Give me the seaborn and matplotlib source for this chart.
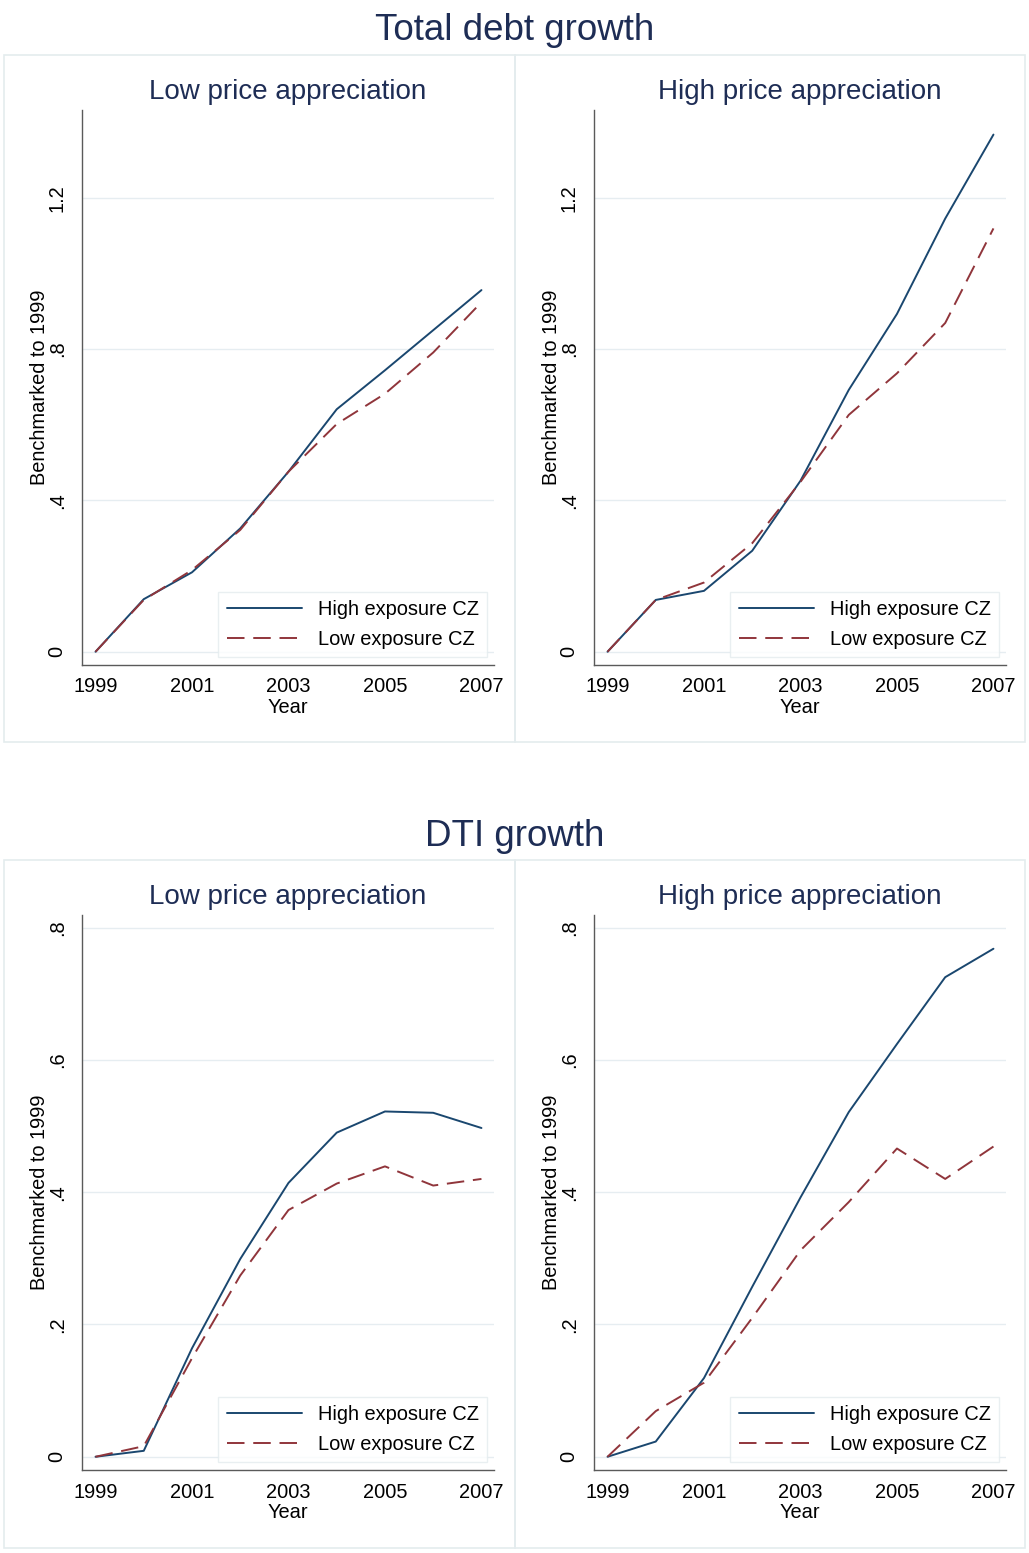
import matplotlib
matplotlib.use("Agg")
import matplotlib.pyplot as plt
from matplotlib.patches import Rectangle
import pandas as pd
import seaborn as sns

sns.set_theme(style="white")
plt.rcParams["font.family"] = ["Liberation Sans", "DejaVu Sans"]
plt.rcParams["text.color"] = "black"
plt.rcParams["axes.labelcolor"] = "black"

# ---- data -------------------------------------------------------------
years = [1999, 2000, 2001, 2002, 2003, 2004, 2005, 2006, 2007]
series_names = ["High exposure CZ", "Low exposure CZ"]
panel_titles = ["Low price appreciation", "High price appreciation"]
group_titles = ["Total debt growth", "DTI growth"]

debt_low_high = [0, 0.139, 0.210, 0.326, 0.476, 0.641, 0.744, 0.850, 0.956]
debt_low_low = [0, 0.137, 0.216, 0.322, 0.476, 0.602, 0.682, 0.791, 0.924]
debt_high_high = [0, 0.137, 0.161, 0.267, 0.452, 0.692, 0.893, 1.145, 1.367]
debt_high_low = [0, 0.137, 0.183, 0.287, 0.449, 0.626, 0.736, 0.869, 1.119]

dti_low_high = [0, 0.009, 0.164, 0.299, 0.414, 0.490, 0.522, 0.520, 0.497]
dti_low_low = [0, 0.016, 0.149, 0.274, 0.373, 0.413, 0.439, 0.410, 0.420]
dti_high_high = [0, 0.023, 0.119, 0.257, 0.392, 0.521, 0.624, 0.725, 0.768]
dti_high_low = [0, 0.069, 0.112, 0.210, 0.312, 0.385, 0.466, 0.420, 0.469]

debt_ticks = [0, 0.4, 0.8, 1.2]
debt_ticklabels = ["0", ".4", ".8", "1.2"]
dti_ticks = [0, 0.2, 0.4, 0.6, 0.8]
dti_ticklabels = ["0", ".2", ".4", ".6", ".8"]
x_ticks = [1999, 2001, 2003, 2005, 2007]

# ---- styling ----------------------------------------------------------
W, H = 1029, 1553
NAVY = "#1a476f"
MAROON = "#90353b"
TITLE_C = "#1e2d55"
GRID_C = "#e6edf1"
AXIS_C = "#5a5a5a"
BOX_C = "#e4ecee"

fig = plt.figure(figsize=(W / 100, H / 100), dpi=100)
fig.patch.set_facecolor("white")


def fx(px):
    return px / W


def fy(py):
    return 1 - py / H


def make_df(high, low):
    return pd.DataFrame({
        "Year": years * 2,
        "value": high + low,
        "series": [series_names[0]] * len(years) + [series_names[1]] * len(years),
    })


def draw_panel(left, right, top, bottom, high, low, title, ylim, ticks, ticklabels):
    ax = fig.add_axes([fx(left), fy(bottom), fx(right - left), (bottom - top) / H])
    df = make_df(high, low)
    sns.lineplot(
        data=df, x="Year", y="value", hue="series", style="series",
        palette={series_names[0]: NAVY, series_names[1]: MAROON},
        dashes={series_names[0]: "", series_names[1]: (9, 4.5)},
        linewidth=1.4, ax=ax, legend=True,
    )
    ax.set_xlim(1998.72, 2007.26)
    ax.set_ylim(*ylim)
    ax.set_yticks(ticks)
    ax.set_yticklabels(ticklabels, rotation=90, va="center", fontsize=14.4)
    ax.set_xticks(x_ticks)
    ax.set_xticklabels([str(t) for t in x_ticks], fontsize=14.4)
    ax.grid(axis="y", color=GRID_C, linewidth=1.0)
    ax.grid(axis="x", visible=False)
    ax.set_axisbelow(True)
    for s in ["top", "right"]:
        ax.spines[s].set_visible(False)
    for s in ["left", "bottom"]:
        ax.spines[s].set_color(AXIS_C)
        ax.spines[s].set_linewidth(1.0)
    ax.tick_params(axis="both", direction="out", length=5, width=1.0,
                   color="#222222", labelcolor="black", pad=4)
    ax.tick_params(axis="y", pad=6)
    ax.set_xlabel("Year", fontsize=14.4, labelpad=1, color="black")
    ax.set_ylabel("Benchmarked to 1999", fontsize=14.4, labelpad=-1, color="black")
    ax.set_title(title, fontsize=20, color=TITLE_C, pad=8)
    ax.set_facecolor("white")
    handles, labels = ax.get_legend_handles_labels()
    leg = ax.legend(
        handles, labels, loc="lower right", bbox_to_anchor=(0.983, 0.0144),
        borderaxespad=0, fontsize=14.4, handlelength=3.75, handletextpad=0.8,
        labelspacing=0.52, borderpad=0.42, fancybox=False, frameon=True,
    )
    leg.get_frame().set_edgecolor(BOX_C)
    leg.get_frame().set_linewidth(1.0)
    for text in leg.get_texts():
        text.set_color("black")
    for line in leg.get_lines():
        line.set_linewidth(1.4)
    return ax


# panel frames
for (x0, x1) in [(4, 515), (515, 1025)]:
    for (y0, y1) in [(55, 742), (860, 1548)]:
        fig.patches.append(Rectangle((fx(x0), fy(y1)), fx(x1 - x0), (y1 - y0) / H,
                                     transform=fig.transFigure, fill=False,
                                     edgecolor=BOX_C, linewidth=1.2, zorder=0))

# group titles
fig.text(0.5, fy(30), group_titles[0], ha="center", va="center", fontsize=26.5, color=TITLE_C)
fig.text(0.5, fy(836), group_titles[1], ha="center", va="center", fontsize=26.5, color=TITLE_C)

# top row: total debt growth
draw_panel(82, 494, 110, 665, debt_low_high, debt_low_low, panel_titles[0],
           (-0.035, 1.432), debt_ticks, debt_ticklabels)
draw_panel(594, 1006, 110, 665, debt_high_high, debt_high_low, panel_titles[1],
           (-0.035, 1.432), debt_ticks, debt_ticklabels)

# bottom row: DTI growth
draw_panel(82, 494, 915, 1470, dti_low_high, dti_low_low, panel_titles[0],
           (-0.020, 0.819), dti_ticks, dti_ticklabels)
draw_panel(594, 1006, 915, 1470, dti_high_high, dti_high_low, panel_titles[1],
           (-0.020, 0.819), dti_ticks, dti_ticklabels)

fig.savefig("out.png", dpi=100, facecolor="white")
